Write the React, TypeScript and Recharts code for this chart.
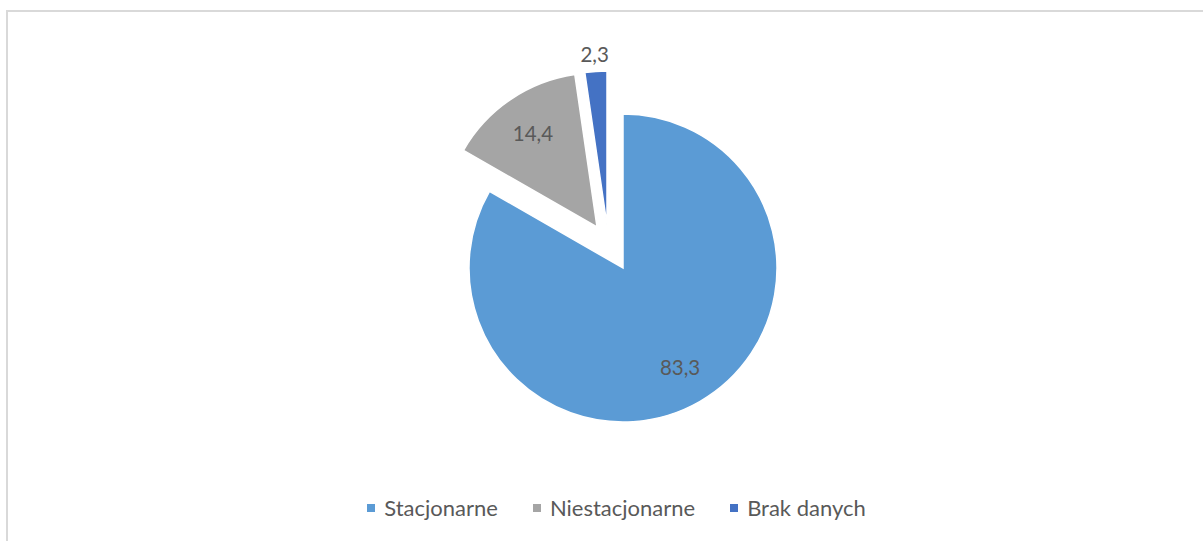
import { PieChart, Pie, Cell, Sector, Legend } from "recharts"

const categories = ["Stacjonarne", "Niestacjonarne", "Brak danych"]
const shares = [83.3, 14.4, 2.3]
const colors = ["#5B9BD5", "#A5A5A5", "#4472C4"]

// pull-out of each slice, px (Excel "point explosion")
const explode = [
  { dx: 0, dy: 0 },
  { dx: -26, dy: -41 },
  { dx: -16, dy: -43 },
]

const data = categories.map((name, i) => ({ name, value: shares[i] }))

const RADIAN = Math.PI / 180
const FONT = "Lato, 'Noto Sans', sans-serif"
const TEXT = "#595959"

const fmt = (v: number) => v.toFixed(1).replace(".", ",")

const offsetOf = (name: string) => explode[categories.indexOf(name)] ?? { dx: 0, dy: 0 }

function ExplodedSector(props: any) {
  const off = offsetOf(props.name ?? props.payload?.name)
  return (
    <Sector
      cx={props.cx + off.dx}
      cy={props.cy + off.dy}
      innerRadius={props.innerRadius}
      outerRadius={props.outerRadius}
      startAngle={props.startAngle}
      endAngle={props.endAngle}
      fill={props.fill}
      stroke="#ffffff"
      strokeWidth={1.5}
    />
  )
}

function renderLabel(props: any) {
  const { cx, cy, midAngle, outerRadius, value, name, percent } = props
  const off = offsetOf(name)
  // small slices get their label outside, like Excel's best fit
  const r = percent < 0.05 ? outerRadius + 17 : outerRadius * 0.74
  const x = cx + off.dx + r * Math.cos(-midAngle * RADIAN)
  const y = cy + off.dy + r * Math.sin(-midAngle * RADIAN)
  return (
    <text x={x} y={y} textAnchor="middle" dominantBaseline="central" fill={TEXT} fontSize={20.5} fontFamily={FONT}>
      {fmt(value)}
    </text>
  )
}

function LegendContent() {
  return (
    <div style={{ display: "flex", justifyContent: "center", gap: 35, fontFamily: FONT, fontSize: 22, color: TEXT }}>
      {categories.map((c, i) => (
        <div key={c} style={{ display: "flex", alignItems: "center" }}>
          <span style={{ width: 8, height: 8, background: colors[i], marginRight: 9, display: "inline-block" }} />
          <span>{c}</span>
        </div>
      ))}
    </div>
  )
}

export default function App() {
  return (
    <div style={{ position: "fixed", left: 0, top: 0, width: 1203, height: 541, overflow: "hidden", background: "#fff" }}>
      <div
        style={{
          position: "absolute",
          left: 6,
          top: 10,
          width: 1400,
          height: 800,
          border: "2px solid #D9D9D9",
          boxSizing: "border-box",
        }}
      />
      <div style={{ position: "absolute", left: 0, top: 0 }}>
        <PieChart width={1203} height={541} margin={{ top: 0, right: 0, bottom: 0, left: 0 }}>
          <Pie
            data={data}
            dataKey="value"
            nameKey="name"
            cx={623}
            cy={268}
            outerRadius={154}
            startAngle={90}
            endAngle={-270}
            label={renderLabel}
            labelLine={false}
            shape={ExplodedSector}
            inactiveShape={ExplodedSector}
            isAnimationActive={false}
          >
            {data.map((d, i) => (
              <Cell key={d.name} fill={colors[i]} />
            ))}
          </Pie>
          <Legend
            content={<LegendContent />}
            wrapperStyle={{ position: "absolute", left: 0, top: 494, width: 1233 }}
          />
        </PieChart>
      </div>
    </div>
  )
}
